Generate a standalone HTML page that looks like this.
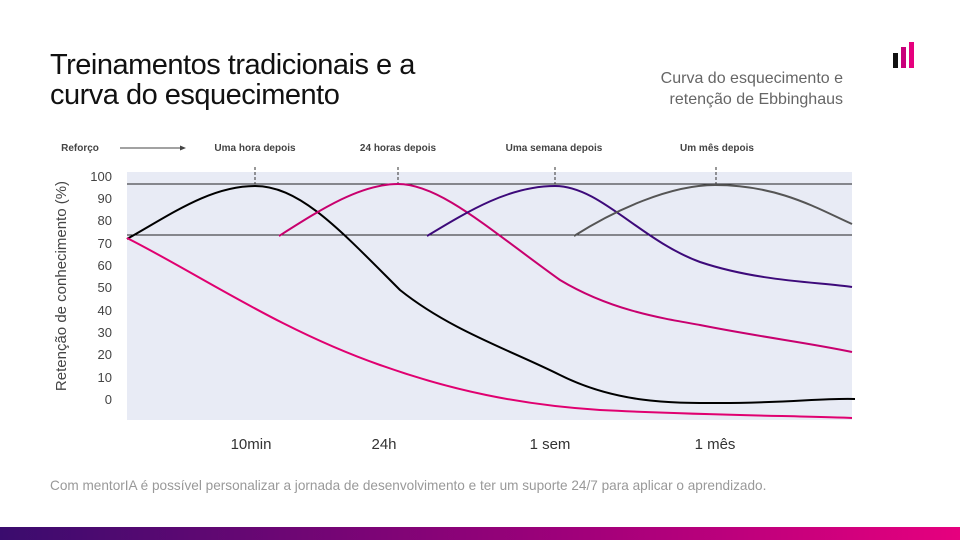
<!DOCTYPE html>
<html><head><meta charset="utf-8"><style>
body{margin:0;width:960px;height:540px;overflow:hidden;background:#fff;font-family:"Liberation Sans",sans-serif;position:relative}
</style></head><body>
<div style="position:absolute;left:50px;top:50px;font-size:29px;line-height:30px;color:#111;letter-spacing:-0.5px">Treinamentos tradicionais e a<br>curva do esquecimento</div>
<div style="position:absolute;right:117px;top:68px;font-size:16px;line-height:21px;color:#666;text-align:right">Curva do esquecimento e<br>retenção de Ebbinghaus</div>
<div style="position:absolute;left:893px;top:53px;width:5px;height:15px;background:#111"></div>
<div style="position:absolute;left:901px;top:47px;width:5px;height:21px;background:#c8007a"></div>
<div style="position:absolute;left:909px;top:42px;width:5px;height:26px;background:#e6007e"></div>
<svg width="960" height="540" style="position:absolute;left:0;top:0" font-family="Liberation Sans, sans-serif">
<rect x="127" y="172" width="725" height="248" fill="#e8ebf5"/>
<line x1="127" y1="184" x2="852" y2="184" stroke="#222" stroke-width="1"/>
<line x1="127" y1="235" x2="852" y2="235" stroke="#222" stroke-width="1"/>
<g font-size="10" font-weight="bold" fill="#444" text-anchor="middle">
<text x="80" y="151">Reforço</text>
<text x="255" y="151">Uma hora depois</text>
<text x="398" y="151">24 horas depois</text>
<text x="554" y="151">Uma semana depois</text>
<text x="717" y="151">Um mês depois</text>
</g>
<line x1="120" y1="148" x2="180" y2="148" stroke="#444"/><polygon points="180,145.5 186,148 180,150.5" fill="#444"/>
<g stroke="#333" stroke-dasharray="3,2"><line x1="255" y1="167" x2="255" y2="184"/><line x1="398" y1="167" x2="398" y2="184"/><line x1="555" y1="167" x2="555" y2="184"/><line x1="716" y1="167" x2="716" y2="184"/></g>
<g font-size="13" fill="#444" text-anchor="end">
<text x="112" y="181">100</text><text x="112" y="203">90</text><text x="112" y="225">80</text><text x="112" y="248">70</text><text x="112" y="270">60</text><text x="112" y="292">50</text><text x="112" y="315">40</text><text x="112" y="337">30</text><text x="112" y="359">20</text><text x="112" y="382">10</text><text x="112" y="404">0</text>
</g>
<text transform="translate(66,286) rotate(-90)" font-size="15" fill="#444" text-anchor="middle">Retenção de conhecimento (%)</text>
<g font-size="15" fill="#333" text-anchor="middle">
<text x="251" y="449">10min</text><text x="384" y="449">24h</text><text x="550" y="449">1 sem</text><text x="715" y="449">1 mês</text>
</g>
<g fill="none" stroke-width="2">
<path d="M127,239 C170,215 210,186 255,186 C300,186 340,230 400,290 C450,330 510,350 560,375 C620,405 680,403 720,403 C790,403 820,398 855,399" stroke="#000"/>
<path d="M279,236 C320,210 360,184 398,184 C440,184 490,230 560,280 C610,310 660,318 700,325 C760,337 810,343 852,352" stroke="#c8006e"/>
<path d="M427,236 C470,210 510,186 555,186 C600,186 640,240 700,262 C760,282 820,282 852,287" stroke="#3d0a7a"/>
<path d="M574,236 C615,210 670,185 715,185 C780,185 820,210 852,224" stroke="#555"/>
<path d="M127,238 C200,275 280,330 380,365 C450,390 520,405 600,410 C700,415 800,416 852,418" stroke="#e00070"/>
</g>
<text x="50" y="490" font-size="13.6" fill="#999">Com mentorIA é possível personalizar a jornada de desenvolvimento e ter um suporte 24/7 para aplicar o aprendizado.</text>
<defs><linearGradient id="g" x1="0" x2="1"><stop offset="0" stop-color="#3a0c6e"/><stop offset="0.6" stop-color="#a0007a"/><stop offset="1" stop-color="#e6007e"/></linearGradient></defs>
<rect x="0" y="527" width="960" height="13" fill="url(#g)"/>
</svg>
</body></html>
